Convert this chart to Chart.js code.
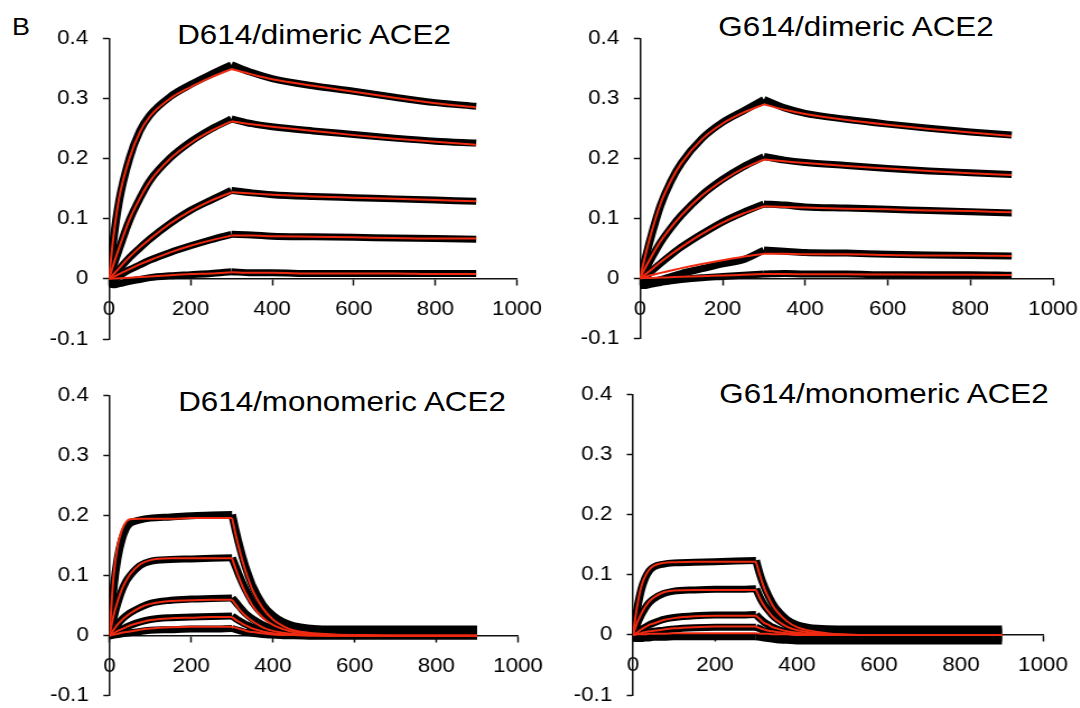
<!DOCTYPE html>
<html>
<head>
<meta charset="utf-8">
<script src="https://cdn.jsdelivr.net/npm/chart.js@4.4.1/dist/chart.umd.min.js"></script>
<style>
  html, body { margin: 0; padding: 0; background: #fff; overflow: hidden; }
  body { width: 1080px; height: 708px; position: relative; font-family: 'Liberation Sans', Arial, sans-serif; }
  canvas { position: absolute; }
  .title { position: absolute; white-space: nowrap; font-size: 28px; line-height: 28px; color: #000;
           transform: translateX(-50%) scaleX(1.12); }
</style>
</head>
<body>
<div class="title" id="panelLetter" style="left:21px;top:15px;font-size:24px;line-height:24px">B</div>
<div class="title" id="t1" style="left:314px;top:21px"></div>
<div class="title" id="t2" style="left:856px;top:13px"></div>
<div class="title" id="t3" style="left:342px;top:388px"></div>
<div class="title" id="t4" style="left:884px;top:380px"></div>
<canvas id="c1" width="500" height="354" style="left:0;top:0;width:560px;height:354px"></canvas>
<canvas id="c2" width="500" height="354" style="left:540px;top:0;width:560px;height:354px"></canvas>
<canvas id="c3" width="500" height="354" style="left:0;top:354px;width:560px;height:354px"></canvas>
<canvas id="c4" width="500" height="354" style="left:540px;top:354px;width:560px;height:354px"></canvas>
<script>
// panel titles
const titles = ['D614/dimeric ACE2', 'G614/dimeric ACE2', 'D614/monomeric ACE2', 'G614/monomeric ACE2'];

// axis ticks
const xTicks = [0, 200, 400, 600, 800, 1000];
const xTickLabels = ['0', '200', '400', '600', '800', '1000'];
const yTicks = [-0.1, 0, 0.1, 0.2, 0.3, 0.4];
const yTickLabels = ['-0.1', '0', '0.1', '0.2', '0.3', '0.4'];

// end of the association phase (s)
const injectionEnd = 300;

// time points (s)
const timeDimer = [0, 10, 25, 50, 75, 100, 150, 200, 250, 300, 350, 400, 500, 600, 700, 800, 900];
const timeMono = [0, 5, 10, 20, 30, 40, 50, 75, 100, 150, 200, 250, 300,
                  310, 320, 330, 340, 350, 375, 400, 425, 450, 500, 550, 600, 700, 800, 900];

// D614 / dimeric ACE2 : measured traces (black) and fits (red)
const d614DimerTrace = [
  [0, 0.06, 0.13, 0.2, 0.245, 0.272, 0.303, 0.323, 0.34, 0.356, 0.343, 0.333, 0.321, 0.312, 0.302, 0.293, 0.287],
  [0, 0.02, 0.05, 0.097, 0.133, 0.163, 0.201, 0.228, 0.249, 0.266, 0.258, 0.253, 0.246, 0.24, 0.234, 0.229, 0.226],
  [-0.003, 0.004, 0.016, 0.035, 0.051, 0.066, 0.092, 0.114, 0.131, 0.147, 0.143, 0.14, 0.137, 0.135, 0.133, 0.131, 0.129],
  [-0.005, -0.002, 0.005, 0.015, 0.023, 0.031, 0.044, 0.055, 0.065, 0.074, 0.073, 0.071, 0.07, 0.069, 0.068, 0.067, 0.066],
  [-0.008, -0.01, -0.008, -0.004, -0.001, 0.002, 0.005, 0.007, 0.009, 0.012, 0.01, 0.01, 0.009, 0.009, 0.009, 0.009, 0.009]
];
const d614DimerFit = [
  [0, 0.065, 0.135, 0.2, 0.243, 0.27, 0.3, 0.319, 0.335, 0.349, 0.34, 0.332, 0.321, 0.311, 0.301, 0.292, 0.285],
  [0, 0.022, 0.052, 0.098, 0.133, 0.162, 0.2, 0.226, 0.246, 0.262, 0.257, 0.253, 0.246, 0.239, 0.233, 0.228, 0.223],
  [0, 0.007, 0.018, 0.036, 0.052, 0.066, 0.092, 0.113, 0.13, 0.144, 0.142, 0.14, 0.137, 0.135, 0.133, 0.131, 0.129],
  [0, 0.003, 0.008, 0.016, 0.024, 0.031, 0.044, 0.055, 0.064, 0.072, 0.072, 0.071, 0.07, 0.069, 0.068, 0.067, 0.067],
  [0, 0.0004, 0.001, 0.002, 0.003, 0.004, 0.006, 0.008, 0.009, 0.011, 0.01, 0.01, 0.009, 0.009, 0.009, 0.008, 0.008]
];

// G614 / dimeric ACE2
const g614DimerTrace = [
  [0, 0.025, 0.065, 0.122, 0.162, 0.192, 0.233, 0.26, 0.279, 0.298, 0.284, 0.275, 0.265, 0.257, 0.25, 0.244, 0.239],
  [0, 0.01, 0.03, 0.06, 0.084, 0.105, 0.139, 0.165, 0.186, 0.203, 0.197, 0.193, 0.188, 0.183, 0.179, 0.176, 0.173],
  [-0.004, 0, 0.01, 0.025, 0.039, 0.052, 0.074, 0.094, 0.11, 0.124, 0.122, 0.119, 0.117, 0.115, 0.113, 0.111, 0.109],
  [-0.008, -0.008, -0.006, -0.002, 0.003, 0.008, 0.016, 0.024, 0.031, 0.047, 0.045, 0.043, 0.042, 0.04, 0.039, 0.038, 0.037],
  [-0.012, -0.012, -0.01, -0.007, -0.004, -0.002, 0.001, 0.003, 0.005, 0.007, 0.008, 0.007, 0.007, 0.006, 0.006, 0.006, 0.005]
];
const g614DimerFit = [
  [0, 0.03, 0.07, 0.125, 0.163, 0.192, 0.232, 0.258, 0.276, 0.29, 0.281, 0.274, 0.264, 0.256, 0.249, 0.243, 0.237],
  [0, 0.014, 0.033, 0.062, 0.085, 0.105, 0.138, 0.163, 0.183, 0.198, 0.195, 0.192, 0.187, 0.183, 0.179, 0.175, 0.172],
  [0, 0.005, 0.013, 0.027, 0.04, 0.052, 0.074, 0.093, 0.108, 0.12, 0.119, 0.118, 0.116, 0.115, 0.113, 0.112, 0.11],
  [0, 0.002, 0.005, 0.009, 0.013, 0.017, 0.024, 0.03, 0.036, 0.041, 0.041, 0.04, 0.04, 0.039, 0.038, 0.038, 0.037],
  [0, 0.0003, 0.0006, 0.0012, 0.0018, 0.0024, 0.0035, 0.0047, 0.0058, 0.007, 0.007, 0.0068, 0.0066, 0.0063, 0.006, 0.0058, 0.0055]
];

// D614 / monomeric ACE2
const d614MonoTrace = [
  [0, 0.04, 0.08, 0.13, 0.16, 0.178, 0.187, 0.193, 0.196, 0.198, 0.2, 0.201, 0.202, 0.172, 0.145, 0.121, 0.101, 0.083, 0.052, 0.034, 0.023, 0.017, 0.012, 0.011, 0.011, 0.011, 0.011, 0.011],
  [0, 0.015, 0.03, 0.055, 0.075, 0.09, 0.1, 0.117, 0.124, 0.127, 0.128, 0.129, 0.13, 0.113, 0.096, 0.081, 0.068, 0.056, 0.036, 0.024, 0.017, 0.013, 0.009, 0.008, 0.008, 0.008, 0.008, 0.008],
  [0, 0.005, 0.01, 0.019, 0.027, 0.033, 0.038, 0.047, 0.054, 0.059, 0.061, 0.062, 0.063, 0.055, 0.047, 0.039, 0.033, 0.028, 0.018, 0.012, 0.009, 0.007, 0.006, 0.005, 0.005, 0.005, 0.005, 0.005],
  [0, 0.002, 0.004, 0.008, 0.011, 0.014, 0.017, 0.023, 0.027, 0.03, 0.031, 0.032, 0.033, 0.028, 0.024, 0.02, 0.017, 0.014, 0.009, 0.006, 0.004, 0.003, 0.002, 0.002, 0.002, 0.002, 0.002, 0.002],
  [0, 0, 0.001, 0.002, 0.003, 0.004, 0.005, 0.007, 0.009, 0.01, 0.011, 0.011, 0.012, 0.01, 0.008, 0.006, 0.005, 0.004, 0.002, 0.001, 0, 0, -0.001, -0.001, -0.001, -0.001, -0.001, -0.001]
];
const d614MonoFit = [
  [0, 0.055, 0.1, 0.15, 0.176, 0.189, 0.194, 0.195, 0.195, 0.195, 0.196, 0.196, 0.196, 0.165, 0.138, 0.114, 0.094, 0.076, 0.046, 0.027, 0.016, 0.009, 0.004, 0.002, 0.001, 0, 0, 0],
  [0, 0.018, 0.034, 0.058, 0.077, 0.091, 0.102, 0.119, 0.126, 0.129, 0.129, 0.129, 0.129, 0.109, 0.091, 0.075, 0.062, 0.05, 0.03, 0.018, 0.011, 0.006, 0.003, 0.001, 0.001, 0, 0, 0],
  [0, 0.005, 0.01, 0.019, 0.026, 0.032, 0.037, 0.047, 0.053, 0.058, 0.059, 0.06, 0.06, 0.051, 0.042, 0.035, 0.029, 0.024, 0.014, 0.008, 0.005, 0.003, 0.001, 0, 0, 0, 0, 0],
  [0, 0.002, 0.004, 0.008, 0.011, 0.014, 0.017, 0.022, 0.026, 0.029, 0.03, 0.031, 0.031, 0.026, 0.022, 0.018, 0.015, 0.012, 0.007, 0.004, 0.003, 0.001, 0.001, 0, 0, 0, 0, 0],
  [0, 0.001, 0.002, 0.003, 0.005, 0.006, 0.007, 0.01, 0.012, 0.014, 0.015, 0.015, 0.015, 0.013, 0.011, 0.009, 0.007, 0.006, 0.004, 0.002, 0.001, 0.001, 0, 0, 0, 0, 0, 0]
];

// G614 / monomeric ACE2
const g614MonoTrace = [
  [0, 0.02, 0.042, 0.075, 0.095, 0.107, 0.113, 0.118, 0.12, 0.121, 0.122, 0.123, 0.124, 0.1, 0.081, 0.066, 0.053, 0.043, 0.026, 0.017, 0.013, 0.011, 0.01, 0.01, 0.01, 0.01, 0.01, 0.01],
  [0, 0.009, 0.018, 0.033, 0.045, 0.054, 0.06, 0.069, 0.073, 0.075, 0.076, 0.076, 0.077, 0.062, 0.05, 0.041, 0.033, 0.027, 0.016, 0.009, 0.007, 0.005, 0.005, 0.005, 0.005, 0.005, 0.005, 0.005],
  [0, 0.002, 0.004, 0.009, 0.013, 0.017, 0.02, 0.026, 0.029, 0.032, 0.033, 0.033, 0.034, 0.027, 0.021, 0.017, 0.013, 0.01, 0.005, 0.002, 0.001, 0, 0, 0, 0, 0, 0, 0],
  [0, 0, 0.001, 0.002, 0.004, 0.005, 0.006, 0.008, 0.01, 0.012, 0.013, 0.013, 0.013, 0.01, 0.007, 0.005, 0.003, 0.001, -0.001, -0.002, -0.003, -0.005, -0.005, -0.005, -0.005, -0.005, -0.005, -0.005],
  [-0.004, -0.006, -0.006, -0.006, -0.005, -0.005, -0.004, -0.004, -0.003, -0.003, -0.003, -0.003, -0.003, -0.004, -0.005, -0.006, -0.007, -0.008, -0.009, -0.01, -0.01, -0.01, -0.01, -0.01, -0.01, -0.01, -0.01, -0.01]
];
const g614MonoFit = [
  [0, 0.025, 0.047, 0.08, 0.098, 0.109, 0.115, 0.12, 0.121, 0.122, 0.122, 0.122, 0.122, 0.098, 0.078, 0.063, 0.05, 0.04, 0.023, 0.013, 0.008, 0.005, 0.001, 0, 0, 0, 0, 0],
  [0, 0.01, 0.02, 0.035, 0.047, 0.056, 0.062, 0.071, 0.074, 0.075, 0.075, 0.075, 0.075, 0.06, 0.048, 0.039, 0.031, 0.025, 0.014, 0.008, 0.005, 0.003, 0.001, 0, 0, 0, 0, 0],
  [0, 0.002, 0.004, 0.009, 0.013, 0.017, 0.019, 0.025, 0.028, 0.031, 0.032, 0.032, 0.032, 0.026, 0.02, 0.017, 0.013, 0.011, 0.006, 0.004, 0.002, 0.001, 0, 0, 0, 0, 0, 0],
  [0, 0.001, 0.002, 0.003, 0.005, 0.006, 0.007, 0.009, 0.011, 0.013, 0.014, 0.014, 0.014, 0.011, 0.009, 0.007, 0.006, 0.005, 0.003, 0.002, 0.001, 0.001, 0, 0, 0, 0, 0, 0],
  [0, 0, 0.001, 0.001, 0.001, 0.002, 0.002, 0.002, 0.003, 0.003, 0.003, 0.003, 0.003, 0.002, 0.002, 0.002, 0.001, 0.001, 0.001, 0, 0, 0, 0, 0, 0, 0, 0, 0]
];

const RED = '#ee2a10';
const INK = '#111';
Chart.defaults.font.family = "'Liberation Sans', Arial, sans-serif";

// one curve -> association and dissociation pieces, so the corner at the end of injection stays sharp
function phasePoints(time, values) {
  const pts = time.map((t, i) => ({ x: t, y: values[i] }));
  return [pts.filter(p => p.x <= injectionEnd), pts.filter(p => p.x >= injectionEnd)];
}

function makePanel(canvasId, time, traces, fits, pad) {
  const datasets = [];
  fits.forEach(f => phasePoints(time, f).forEach(pts => datasets.push({
    data: pts, borderColor: RED, borderWidth: 2, order: 0
  })));
  traces.forEach(tr => phasePoints(time, tr).forEach(pts => datasets.push({
    data: pts, borderColor: '#000', borderWidth: 7, order: 1
  })));

  new Chart(document.getElementById(canvasId), {
    type: 'line',
    data: { datasets },
    options: {
      responsive: false,
      animation: false,
      events: [],
      layout: { padding: pad },
      plugins: { legend: { display: false }, tooltip: { enabled: false } },
      elements: {
        point: { radius: 0 },
        line: { cubicInterpolationMode: 'monotone', borderJoinStyle: 'round', borderCapStyle: 'butt' }
      },
      scales: {
        x: {
          type: 'linear', min: 0, max: 1000,
          position: { y: 0 },
          afterBuildTicks: s => { s.ticks = xTicks.map(v => ({ value: v })); },
          afterFit: s => { s.paddingLeft = 0; s.paddingRight = 0; },
          ticks: {
            color: '#000', font: { size: 20 }, padding: 13, maxRotation: 0, autoSkip: false,
            callback: (v, i) => xTickLabels[i]
          },
          grid: { display: true, drawOnChartArea: false, drawTicks: true, tickLength: 6, tickWidth: 1.5, tickColor: INK },
          border: { display: true, color: INK, width: 1.5 }
        },
        y: {
          type: 'linear', min: -0.1, max: 0.4,
          afterBuildTicks: s => { s.ticks = yTicks.map(v => ({ value: v })); },
          afterFit: s => { s.width = 60; s.paddingTop = 0; s.paddingBottom = 0; },
          ticks: {
            color: '#000', font: { size: 20 }, padding: 13,
            callback: (v, i) => yTickLabels[i]
          },
          grid: { display: true, drawOnChartArea: false, drawTicks: true, tickLength: 5.5, tickWidth: 1.5, tickColor: INK },
          border: { display: true, color: INK, width: 1.5 }
        }
      }
    }
  });
}

['t1', 't2', 't3', 't4'].forEach((id, i) => { document.getElementById(id).textContent = titles[i]; });

makePanel('c1', timeDimer, d614DimerTrace, d614DimerFit, { left: 37.3, right: 38.4, top: 38.3, bottom: 15 });
makePanel('c2', timeDimer, g614DimerTrace, g614DimerFit, { left: 29.3, right: 42, top: 38.3, bottom: 15.7 });
makePanel('c3', timeMono, d614MonoTrace, d614MonoFit, { left: 37.8, right: 37.5, top: 41.7, bottom: 12.3 });
makePanel('c4', timeMono, g614MonoTrace, g614MonoFit, { left: 23, right: 50.9, top: 40.7, bottom: 13 });
</script>
</body>
</html>
